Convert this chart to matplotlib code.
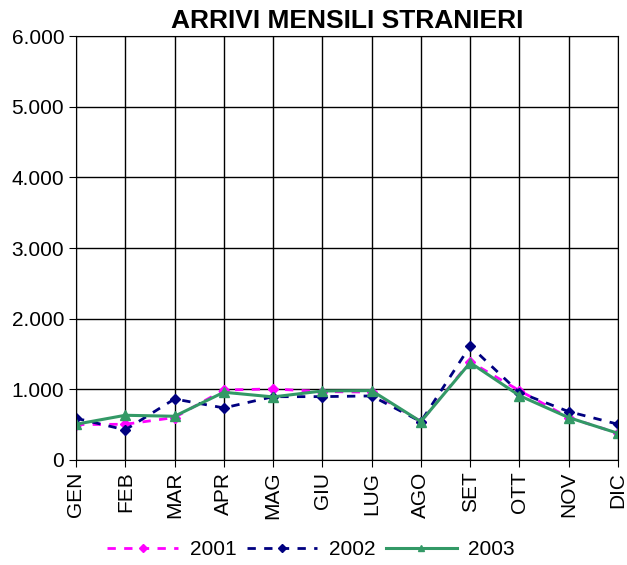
import matplotlib
matplotlib.use('Agg')
import matplotlib.pyplot as plt
from matplotlib.ticker import FuncFormatter

plt.rcParams['font.family'] = ['Liberation Sans', 'DejaVu Sans']

# dati
mesi = ['GEN', 'FEB', 'MAR', 'APR', 'MAG', 'GIU', 'LUG', 'AGO', 'SET', 'OTT', 'NOV', 'DIC']
arrivi_2001 = [500, 505, 600, 990, 1005, 967, 960, 542, 1390, 981, 600, 377]
arrivi_2002 = [590, 425, 863, 736, 895, 896, 906, 542, 1613, 953, 684, 505]
arrivi_2003 = [505, 632, 618, 958, 892, 976, 981, 542, 1377, 910, 599, 377]

fig = plt.figure(figsize=(6.27, 5.65), dpi=100)
ax = fig.add_axes([0.1212, 0.186, 0.8644, 0.750])

x = range(len(mesi))
ax.plot(x, arrivi_2001, color='#FF00FF', linestyle=(0, (3, 3)), linewidth=2,
        marker='D', markersize=5.5, label='2001')
ax.plot(x, arrivi_2002, color='#000080', linestyle=(0, (3, 3)), linewidth=2,
        marker='D', markersize=5.5, label='2002')
ax.plot(x, arrivi_2003, color='#339966', linestyle='-', linewidth=2.2,
        marker='^', markersize=6.5, label='2003')

ax.set_xlim(0, len(mesi) - 1)
ax.set_ylim(0, 6000)
ax.set_yticks(range(0, 6001, 1000))
ax.yaxis.set_major_formatter(FuncFormatter(lambda v, p: f'{int(v):,}'.replace(',', '.')))
ax.set_xticks(list(x))
ax.set_xticklabels(mesi, rotation=90)
ax.tick_params(labelsize=15, length=5, color='black')
ax.grid(True, color='black', linewidth=1)
ax.set_axisbelow(True)
for s in ax.spines.values():
    s.set_color('black')

ax.set_title('ARRIVI MENSILI STRANIERI', fontsize=19, fontweight='bold', pad=6)

fig.legend(*ax.get_legend_handles_labels(), loc='center', bbox_to_anchor=(311 / 627, 0.027),
           ncol=3, frameon=False, fontsize=15, handlelength=3.4, columnspacing=0.5,
           handletextpad=0.55, markerscale=0.7, borderpad=0.1)

plt.savefig('out.png', dpi=100)
